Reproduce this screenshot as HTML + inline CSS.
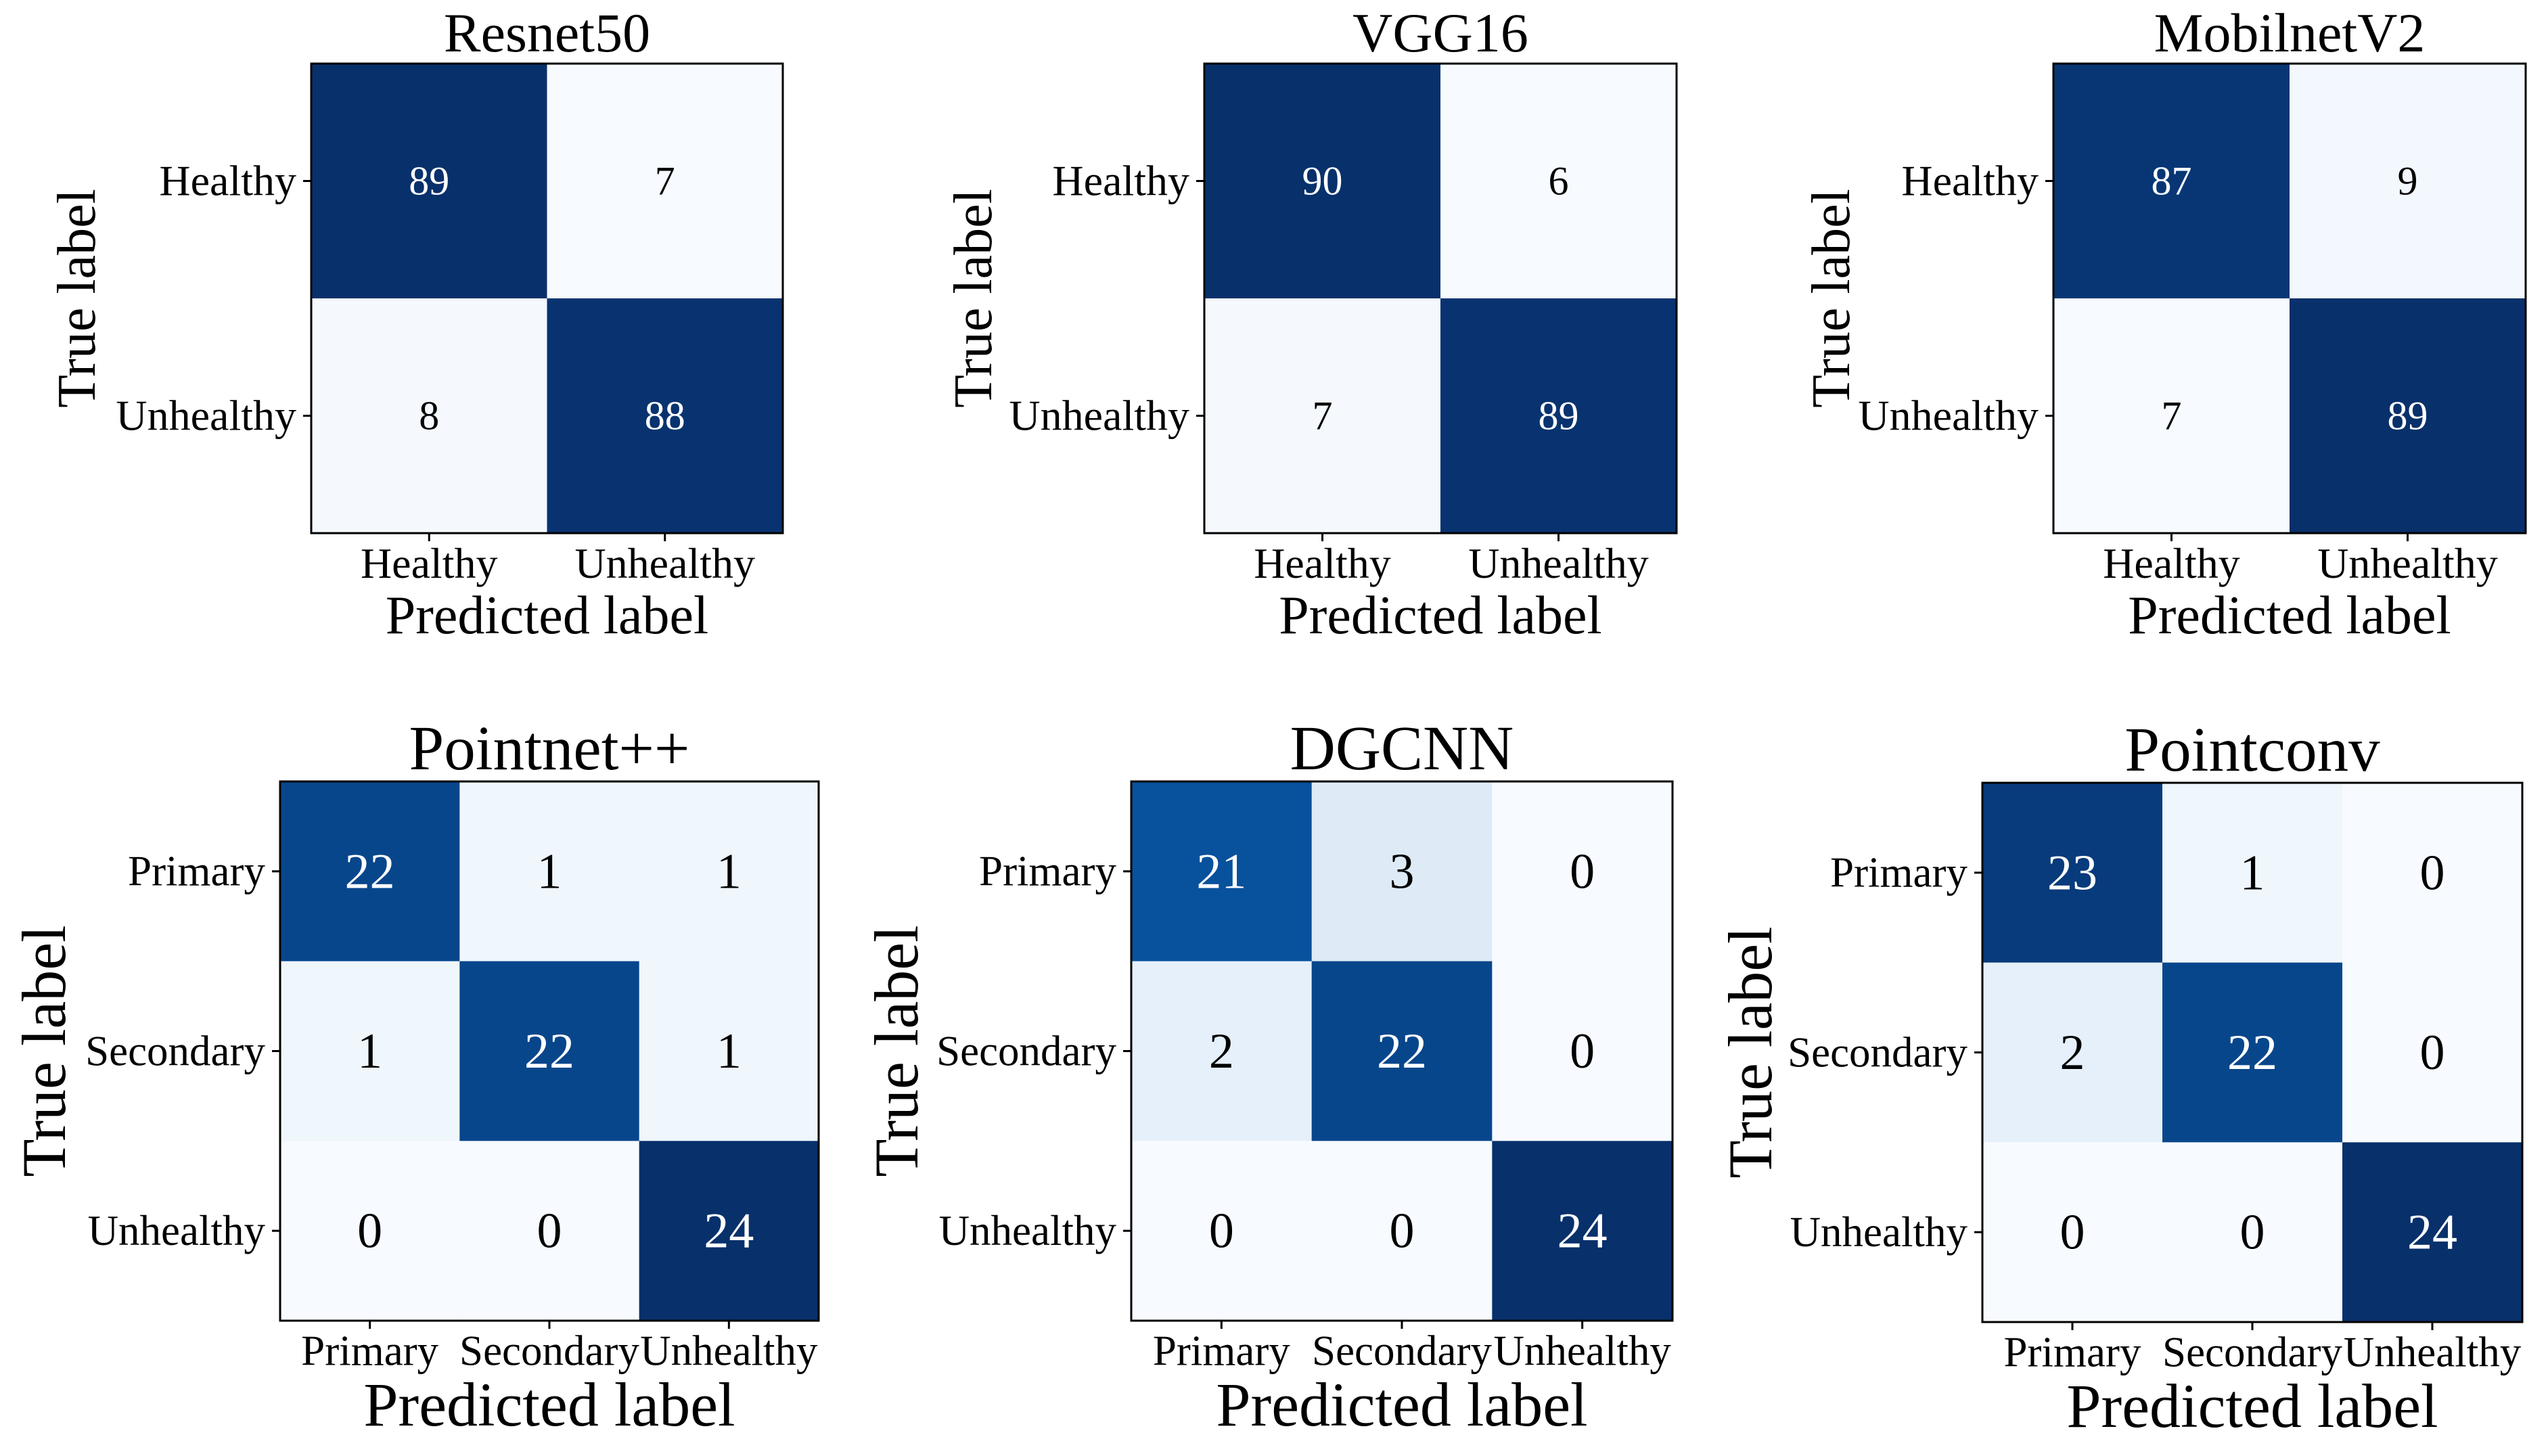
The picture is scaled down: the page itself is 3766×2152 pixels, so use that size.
<!DOCTYPE html>
<html><head><meta charset="utf-8"><style>
html,body{margin:0;padding:0;background:#fff;}
svg{display:block;font-family:"Liberation Serif",serif;}
</style></head>
<body>
<svg id="fig" width="3766" height="2152" viewBox="0 0 3766 2152" xmlns="http://www.w3.org/2000/svg"></svg>
<script>
const binLabels = ["Healthy","Unhealthy"];
const triLabels = ["Primary","Secondary","Unhealthy"];
const resnetValues = [[89,7],[8,88]];
const vggValues = [[90,6],[7,89]];
const mobileValues = [[87,9],[7,89]];
const pointnetValues = [[22,1,1],[1,22,1],[0,0,24]];
const dgcnnValues = [[21,3,0],[2,22,0],[0,0,24]];
const pointconvValues = [[23,1,0],[2,22,0],[0,0,24]];
const titles = ["Resnet50","VGG16","MobilnetV2","Pointnet++","DGCNN","Pointconv"];

const NS="http://www.w3.org/2000/svg";
const svg=document.getElementById('fig');
const stops=["#f7fbff","#deebf7","#c6dbef","#9ecae1","#6baed6","#4292c6","#2171b5","#08519c","#08306b"];
function hex(c){return [1,3,5].map(i=>parseInt(c.substr(i,2),16));}
function blues(t){t=Math.max(0,Math.min(1,t));const p=t*8;const i=Math.min(7,Math.floor(p));const f=p-i;const a=hex(stops[i]),b=hex(stops[i+1]);
return "rgb("+a.map((v,k)=>Math.round(v+(b[k]-v)*f)).join(",")+")";}
function el(tag,attrs,parent){const e=document.createElementNS(NS,tag);for(const k in attrs)e.setAttribute(k,attrs[k]);(parent||svg).appendChild(e);return e;}

function panel(name,title,vals,labels,box,fs){
  const g=el('g',{});
  
  
  const n=labels.length;
  const cw=(box.r-box.l)/n, ch=(box.b-box.t)/n;
  const flat=vals.flat();const mn=Math.min(...flat),mx=Math.max(...flat);
  const xs=j=>box.l+cw*(j+0.5), ys=i=>box.t+ch*(i+0.5);
  for(let i=0;i<n;i++)for(let j=0;j<n;j++){
    const v=vals[i][j];
    const r=el('rect',{x:box.l+cw*j,y:box.t+ch*i,width:cw+0.5,height:ch+0.5,fill:blues((v-mn)/(mx-mn))},g);
    
    
    const t=el('text',{x:xs(j),y:ys(i)+fs.cell*0.33,'text-anchor':'middle','font-size':fs.cell,fill:(v>mx/2)?'#fff':'#000'},g);
    t.textContent=v;
    
    
  }
  const fr=el('rect',{x:box.l,y:box.t,width:box.r-box.l,height:box.b-box.t,fill:'none',stroke:'#000','stroke-width':3},g);
  
  
  for(let k=0;k<n;k++){
    el('line',{x1:xs(k),x2:xs(k),y1:box.b,y2:box.b+12,stroke:'#000','stroke-width':3},g);
    el('line',{x1:box.l,x2:box.l-12,y1:ys(k),y2:ys(k),stroke:'#000','stroke-width':3},g);
    const xt=el('text',{x:xs(k),y:box.b+18+fs.tick*0.75,'text-anchor':'middle','font-size':fs.tick},g);
    xt.textContent=labels[k];
    
    
    const yt=el('text',{x:box.l-22,y:ys(k)+fs.tick*0.33,'text-anchor':'end','font-size':fs.tick},g);
    yt.textContent=labels[k];
    
    
  }
  const cx=(box.l+box.r)/2, cy=(box.t+box.b)/2;
  const tt=el('text',{x:cx,y:box.t-18,'text-anchor':'middle','font-size':fs.title},g);
  tt.textContent=title;
  
  
  const xl=el('text',{x:cx,y:box.b+fs.xlOff,'text-anchor':'middle','font-size':fs.label},g);
  xl.textContent='Predicted label';
  
  
  const yl=el('text',{x:box.yl,y:cy,'text-anchor':'middle','font-size':fs.label,transform:'rotate(-90 '+box.yl+' '+cy+')'},g);
  yl.textContent='True label';
  
  
}
const fsTop={cell:60,tick:64,title:82,label:80,xlOff:148};
const fsBot={cell:74,tick:63,title:93,label:92,xlOff:155};
panel('resnet50',titles[0],resnetValues,binLabels,{l:460,r:1157,t:94,b:788,yl:140},fsTop);
panel('vgg16',titles[1],vggValues,binLabels,{l:1780,r:2478,t:94,b:788,yl:1465},fsTop);
panel('mobilenetv2',titles[2],mobileValues,binLabels,{l:3035,r:3733,t:94,b:788,yl:2733},fsTop);
panel('pointnet',titles[3],pointnetValues,triLabels,{l:414,r:1210,t:1155,b:1952,yl:96},fsBot);
panel('dgcnn',titles[4],dgcnnValues,triLabels,{l:1672,r:2472,t:1155,b:1952,yl:1356},fsBot);
panel('pointconv',titles[5],pointconvValues,triLabels,{l:2930,r:3728,t:1157,b:1954,yl:2618},fsBot);
</script>
</body></html>
